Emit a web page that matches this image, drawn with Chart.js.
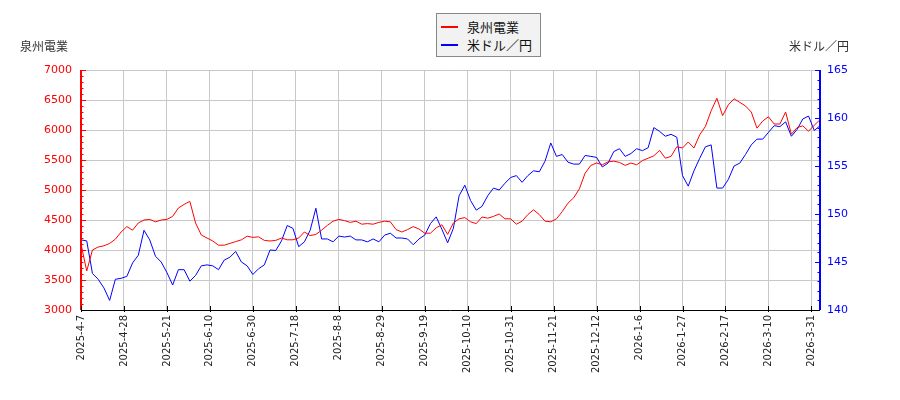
<!DOCTYPE html>
<html>
<head>
<meta charset="utf-8">
<script src="https://cdn.jsdelivr.net/npm/chart.js@4.4.1/dist/chart.umd.min.js"></script>
<style>
  html, body { margin: 0; padding: 0; background: #fff; }
  #wrap { position: relative; width: 900px; height: 400px; }
  #chart { position: absolute; left: 0; top: 0; }
  .axis-title {
    position: absolute; top: 37px;
    font-family: "Noto Sans CJK JP", sans-serif; font-size: 12px; color: #333;
    white-space: nowrap;
  }
  #legend {
    position: absolute; left: 436px; top: 13px; width: 103px; height: 42px;
    border: 1px solid #888; background: #f2f2f2;
    font-family: "Noto Sans CJK JP", sans-serif; font-size: 13px; color: #111;
  }
  .item { position: absolute; left: 0; height: 18px; line-height: 18px; white-space: nowrap; }
  .item span.swatch { position: absolute; left: 4px; top: 8px; width: 17px; height: 2px; }
  .item span.label { position: absolute; left: 30px; top: 0; }
</style>
</head>
<body>
<div id="wrap">
  <canvas id="chart" width="900" height="400"></canvas>
  <div class="axis-title" style="left:20px;">泉州電業</div>
  <div class="axis-title" style="right:51px;">米ドル／円</div>
  <div id="legend">
    <div class="item" style="top:4px;"><span class="swatch" style="background:#ff0000"></span><span class="label">泉州電業</span></div>
    <div class="item" style="top:22px;"><span class="swatch" style="background:#0000ff"></span><span class="label">米ドル／円</span></div>
  </div>
</div>
<script>
// x axis labels, one every 15 trading days
const dateLabels = [
    '2025-4-7', '2025-4-28', '2025-5-21', '2025-6-10', '2025-6-30', '2025-7-18',
    '2025-8-8', '2025-8-29', '2025-9-19', '2025-10-10', '2025-10-31', '2025-11-21',
    '2025-12-12', '2026-1-6', '2026-1-27', '2026-2-17', '2026-3-10', '2026-3-31'
];
const LABEL_EVERY = 15;
const SAMPLE_STEP = 2;   // values below are read every 2nd trading day
const LAST_DAY = 258;

// 泉州電業 (left axis, yen)
const priceValues = [
    4100, 3650, 4000, 4050, 4070, 4110, 4180, 4300, 4390, 4330,
    4450, 4500, 4510, 4470, 4500, 4510, 4560, 4700, 4760, 4810,
    4450, 4250, 4200, 4150, 4080, 4080, 4110, 4140, 4170, 4230,
    4210, 4220, 4160, 4150, 4160, 4200, 4170, 4170, 4200, 4300,
    4240, 4260, 4330, 4410, 4480, 4510, 4490, 4460, 4480, 4430,
    4440, 4430, 4460, 4480, 4470, 4340, 4300, 4340, 4390, 4350,
    4280, 4280, 4370, 4420, 4260, 4450, 4520, 4540, 4470, 4440,
    4550, 4530, 4560, 4600, 4520, 4520, 4430, 4480, 4590, 4670,
    4590, 4480, 4470, 4520, 4640, 4780, 4870, 5020, 5280, 5410,
    5450, 5420, 5470, 5480, 5460, 5410, 5450, 5420, 5490, 5530,
    5570, 5660, 5530, 5560, 5720, 5700, 5800, 5700, 5920, 6060,
    6320, 6530, 6240, 6420, 6520, 6460, 6400, 6300, 6030, 6150,
    6220, 6100, 6100, 6300, 5930, 6040, 6070, 5980, 6080, 6170
];

// 米ドル／円 (right axis)
const usdJpyValues = [
    147.3, 147.2, 143.8, 143.2, 142.3, 141.0, 143.2, 143.3, 143.5, 144.9,
    145.7, 148.3, 147.3, 145.6, 145.0, 143.9, 142.6, 144.2, 144.2, 143.0,
    143.6, 144.6, 144.7, 144.6, 144.2, 145.2, 145.5, 146.1, 145.0, 144.6,
    143.7, 144.3, 144.7, 146.25, 146.2, 147.2, 148.8, 148.5, 146.6, 147.1,
    148.3, 150.6, 147.4, 147.4, 147.1, 147.7, 147.6, 147.7, 147.3, 147.3,
    147.1, 147.4, 147.1, 147.8, 148.0, 147.5, 147.5, 147.4, 146.8, 147.4,
    147.8, 149.0, 149.7, 148.4, 147.0, 148.5, 151.9, 153.0, 151.4, 150.4,
    150.8, 151.9, 152.7, 152.5, 153.2, 153.8, 154.0, 153.3, 154.0, 154.5,
    154.4, 155.5, 157.4, 156.0, 156.2, 155.4, 155.2, 155.2, 156.1, 156.0,
    155.9, 154.9, 155.3, 156.5, 156.8, 156.0, 156.3, 156.8, 156.6, 156.9,
    159.0, 158.6, 158.1, 158.3, 158.0, 154.0, 152.9, 154.5, 155.8, 157.0,
    157.2, 152.7, 152.7, 153.6, 155.0, 155.3, 156.2, 157.2, 157.8, 157.8,
    158.5, 159.2, 159.1, 159.6, 158.1, 158.8, 159.9, 160.2, 158.7, 159.2
];

const toPoints = (values) => values.map((v, k) => ({ x: k * SAMPLE_STEP, y: v }));

// axis lines and the small inward ticks
const axisFrame = {
    id: 'axisFrame',
    afterDraw(chart) {
        const { ctx, chartArea: a, scales } = chart;
        const seg = (x1, y1, x2, y2) => { ctx.beginPath(); ctx.moveTo(x1, y1); ctx.lineTo(x2, y2); ctx.stroke(); };
        ctx.save();
        ctx.lineWidth = 1;

        ctx.strokeStyle = '#ff0000';
        for (let v = 3000; v <= 7000; v += 100) {
            const y = Math.round(scales.y.getPixelForValue(v)) + 0.5;
            seg(a.left, y, a.left + (v % 500 === 0 ? 5 : 2.5), y);
        }
        ctx.lineWidth = 2;
        seg(a.left, a.top, a.left, a.bottom);

        ctx.lineWidth = 1;
        ctx.strokeStyle = '#0000ff';
        for (let v = 140; v <= 165; v += 1) {
            const y = Math.round(scales.y2.getPixelForValue(v)) + 0.5;
            seg(a.right, y, a.right - (v % 5 === 0 ? 5 : 2.5), y);
        }
        ctx.lineWidth = 2;
        seg(a.right, a.top, a.right, a.bottom);

        ctx.lineWidth = 1;
        ctx.strokeStyle = '#000';
        seg(a.left, Math.round(a.bottom) + 0.5, a.right, Math.round(a.bottom) + 0.5);
        dateLabels.forEach((_, k) => {
            const x = Math.round(scales.x.getPixelForValue(k * LABEL_EVERY)) + 0.5;
            seg(x, a.bottom - 4, x, a.bottom + 2);
        });
        ctx.restore();
    }
};

new Chart(document.getElementById('chart').getContext('2d'), {
    type: 'line',
    data: {
        datasets: [
            {
                label: '泉州電業',
                data: toPoints(priceValues),
                yAxisID: 'y',
                borderColor: '#ff0000',
                borderWidth: 1,
                pointRadius: 0,
                tension: 0,
            },
            {
                label: '米ドル／円',
                data: toPoints(usdJpyValues),
                yAxisID: 'y2',
                borderColor: '#0000ff',
                borderWidth: 1,
                pointRadius: 0,
                tension: 0,
            },
        ],
    },
    options: {
        responsive: false,
        animation: false,
        layout: { padding: { top: 70, left: 0, right: 0, bottom: 0 } },
        plugins: {
            legend: { display: false },
            tooltip: { enabled: false },
        },
        scales: {
            x: {
                type: 'linear',
                min: 0,
                max: LAST_DAY,
                afterBuildTicks: (s) => { s.ticks = dateLabels.map((_, k) => ({ value: k * LABEL_EVERY })); },
                afterFit: (s) => { s.height = 90; },
                border: { display: false },
                grid: { color: '#c8c8c8', drawTicks: false },
                ticks: {
                    autoSkip: false,
                    minRotation: 90,
                    maxRotation: 90,
                    padding: 5,
                    color: '#222',
                    font: { family: 'DejaVu Sans', size: 10 },
                    callback: (v) => dateLabels[Math.round(v / LABEL_EVERY)],
                },
            },
            y: {
                position: 'left',
                min: 3000,
                max: 7000,
                afterFit: (s) => { s.width = 81; },
                border: { display: false },
                grid: { color: '#c8c8c8', drawTicks: false },
                ticks: {
                    stepSize: 500,
                    padding: 9,
                    color: '#ff0000',
                    font: { family: 'DejaVu Sans', size: 11 },
                    callback: (v) => String(v),
                },
            },
            y2: {
                position: 'right',
                min: 140,
                max: 165,
                afterFit: (s) => { s.width = 80; },
                border: { display: false },
                grid: { drawOnChartArea: false, drawTicks: false },
                ticks: {
                    stepSize: 5,
                    padding: 7,
                    color: '#0000ff',
                    font: { family: 'DejaVu Sans', size: 11 },
                    callback: (v) => String(v),
                },
            },
        },
    },
    plugins: [axisFrame],
});
</script>
</body>
</html>
